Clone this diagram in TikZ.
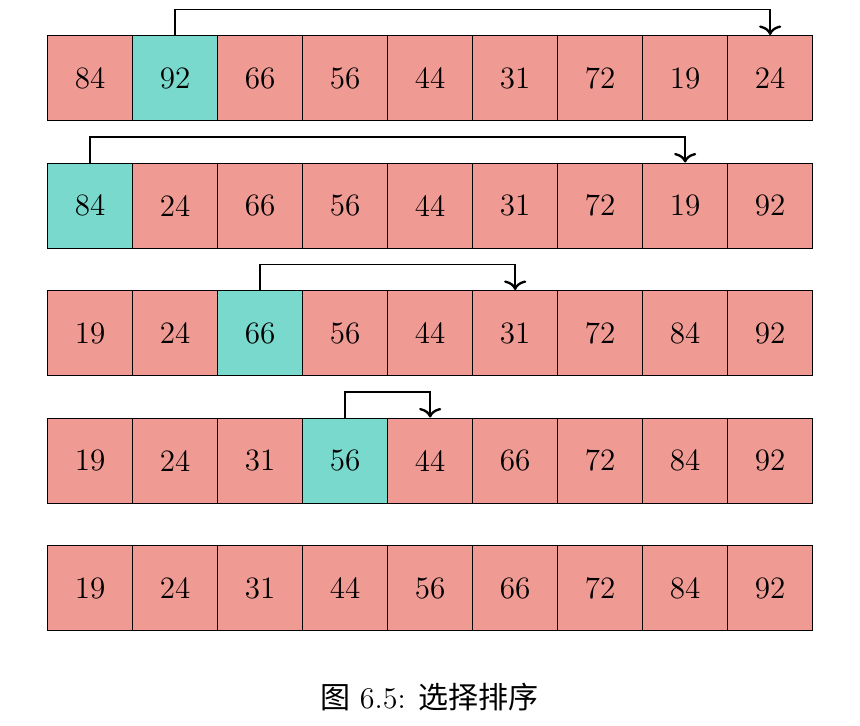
\documentclass[tikz,border=0pt]{standalone}
\usepackage{fontspec}
\newfontfamily\cjk{Noto Sans CJK SC}
\usetikzlibrary{positioning,arrows.meta}
\definecolor{cellred}{RGB}{240,154,148}
\definecolor{cellteal}{RGB}{122,217,205}

\begin{document}
\begin{tikzpicture}[
  	x=1.153cm,
  	y=1.153cm,
  	cell/.style={draw=black,line width=0.5pt,fill=cellred,minimum size=1.153cm,inner sep=0pt,anchor=north west,font=\large},
  	pick/.style={cell,fill=cellteal},
  	swapline/.style={-{To[width=3mm,length=1.3mm,line width=0.9pt]},line width=0.55pt,draw=black}
  	]
  	\useasboundingbox (-0.553,0.412) rectangle (9.565,-8.118);
  	
  	% Rows of the array, one per pass
  	\foreach \row/\vals/\sel in {
  		1/{84,92,66,56,44,31,72,19,24}/2,
  		2/{84,24,66,56,44,31,72,19,92}/1,
  		3/{19,24,66,56,44,31,72,84,92}/3,
  		4/{19,24,31,56,44,66,72,84,92}/4,
  		5/{19,24,31,44,56,66,72,84,92}/0} {
  		\foreach \v [count=\c] in \vals {
  			\ifnum\c=\sel \def\sty{pick}\else\def\sty{cell}\fi
  			\node[\sty] (r\row c\c) at ({\c-1},{-(\row-1)*1.5}) {\v};
  		}
  	}
  	
  	% Swaps
  	\draw[swapline] (r1c2.north) -- ++(0,0.3) -| (r1c9.north);
  	\draw[swapline] (r2c1.north) -- ++(0,0.3) -| (r2c8.north);
  	\draw[swapline] (r3c3.north) -- ++(0,0.3) -| (r3c6.north);
  	\draw[swapline] (r4c4.north) -- ++(0,0.3) -| (r4c5.north);
  	
  	\node[font=\fontsize{11.6}{14}\selectfont] (caption) at (4.5,-7.79) {{\cjk 图} 6.5: {\cjk 选择排序}};
\end{tikzpicture}
\end{document}
